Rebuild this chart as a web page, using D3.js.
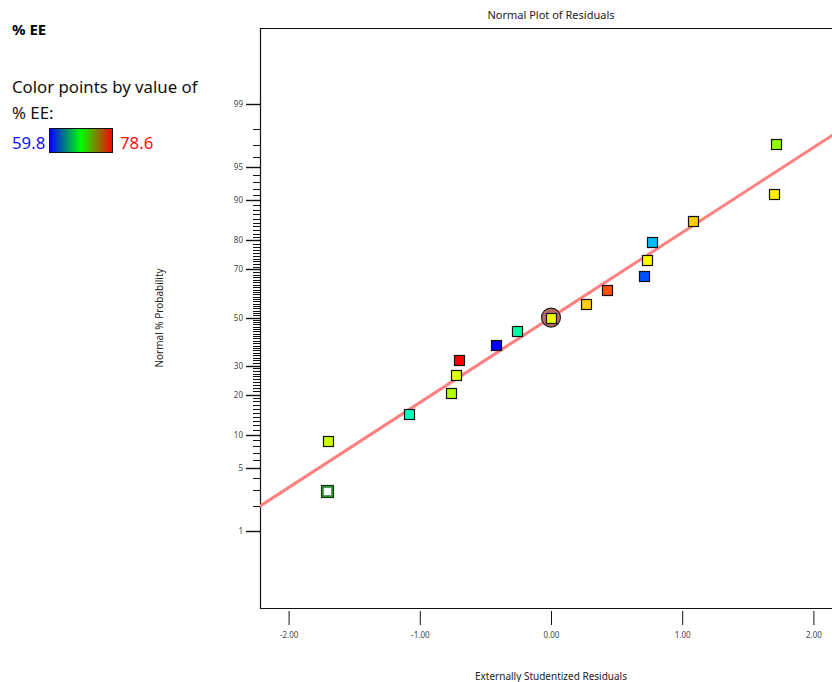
<!DOCTYPE html>
<html>
<head>
<meta charset="utf-8">
<script src="https://cdn.jsdelivr.net/npm/d3@7"></script>
<style>
  body { margin: 0; background: #fff; }
  svg { display: block; font-family: "Noto Sans", "Open Sans", sans-serif; }
</style>
</head>
<body>
<svg id="chart" width="832" height="682"></svg>
<script>
// Externally studentized residuals, in rank order
const residuals = [-1.710, -1.697, -1.080, -0.762, -0.726, -0.703, -0.419, -0.259, 0.000,
                   0.264, 0.425, 0.707, 0.729, 0.768, 1.085, 1.702, 1.717];
// Normal % probability of each ranked residual
const probabilities = [2.94, 8.82, 14.71, 20.59, 26.47, 32.35, 38.24, 44.12, 50.00,
                       55.88, 61.76, 67.65, 73.53, 79.41, 85.29, 91.18, 97.06];
// % EE response of each run (colours the points)
const eeValues = [69.2, 72.9, 65.7, 72.5, 73.4, 78.6, 59.8, 66.2, 73.5,
                  74.8, 77.1, 61.3, 73.9, 63.3, 74.8, 74.2, 71.9];
const eeRange = [59.8, 78.6];
const openPointIndex = 0;      // drawn hollow
const selectedPointIndex = 8;  // circled
// Reference line slope (z per residual unit)
const lineSlope = 0.928;

const xTickValues = [-2, -1, 0, 1, 2];
const yMajorTicks = [1, 5, 10, 20, 30, 50, 70, 80, 90, 95, 99];
const yMinorTicks = d3.range(1, 100).filter(v => !yMajorTicks.includes(v));

// Inverse of the standard normal CDF (Acklam's rational approximation)
function probit(p) {
  const a = [-3.969683028665376e+01, 2.209460984245205e+02, -2.759285104469687e+02,
             1.383577518672690e+02, -3.066479806614716e+01, 2.506628277459239e+00];
  const b = [-5.447609879822406e+01, 1.615858368580409e+02, -1.556989798598866e+02,
             6.680131188771972e+01, -1.328068155288572e+01];
  const c = [-7.784894002430293e-03, -3.223964580411365e-01, -2.400758277161838e+00,
             -2.549732539343734e+00, 4.374664141464968e+00, 2.938163982698783e+00];
  const d = [7.784695709041462e-03, 3.224671290700398e-01, 2.445134137142996e+00,
             3.754408661907416e+00];
  const pl = 0.02425, ph = 1 - pl;
  let q, r;
  if (p < pl) {
    q = Math.sqrt(-2 * Math.log(p));
    return (((((c[0]*q+c[1])*q+c[2])*q+c[3])*q+c[4])*q+c[5]) /
           ((((d[0]*q+d[1])*q+d[2])*q+d[3])*q+1);
  } else if (p <= ph) {
    q = p - 0.5; r = q * q;
    return (((((a[0]*r+a[1])*r+a[2])*r+a[3])*r+a[4])*r+a[5])*q /
           (((((b[0]*r+b[1])*r+b[2])*r+b[3])*r+b[4])*r+1);
  } else {
    q = Math.sqrt(-2 * Math.log(1 - p));
    return -(((((c[0]*q+c[1])*q+c[2])*q+c[3])*q+c[4])*q+c[5]) /
            ((((d[0]*q+d[1])*q+d[2])*q+d[3])*q+1);
  }
}

const svg = d3.select("#chart");
const plot = { left: 260, right: 842, top: 28, bottom: 608 };

const x = d3.scaleLinear().domain([-2.218, 2.218]).range([plot.left, plot.right]);
const z = d3.scaleLinear().domain([-3.17, 3.16]).range([plot.bottom, plot.top]);
const yPct = pct => z(probit(pct / 100));

const hue = d3.scaleLinear().domain(eeRange).range([240, 0]);
const colorOf = v => d3.hsl(hue(v), 1, 0.5).formatHex();

// ---- Left panel: response name and colour legend ----
svg.append("text").attr("x", 12).attr("y", 35)
  .attr("font-size", 15).attr("font-weight", "bold").attr("fill", "#000").text("% EE");
svg.append("text").attr("x", 12).attr("y", 93)
  .attr("font-size", 16.8).attr("fill", "#111").text("Color points by value of");
svg.append("text").attr("x", 12).attr("y", 119)
  .attr("font-size", 16.8).attr("fill", "#111").text("% EE:");
svg.append("text").attr("x", 12).attr("y", 149)
  .attr("font-size", 16.8).attr("fill", "#1010ff").text(eeRange[0]);
svg.append("text").attr("x", 120).attr("y", 149)
  .attr("font-size", 16.8).attr("fill", "#ff1010").text(eeRange[1]);

const grad = svg.append("defs").append("linearGradient").attr("id", "eeGrad");
grad.selectAll("stop").data([["0%", "#0000ff"], ["50%", "#00ff00"], ["100%", "#ff0000"]])
  .join("stop").attr("offset", d => d[0]).attr("stop-color", d => d[1]);
svg.append("rect").attr("x", 49.5).attr("y", 128.5).attr("width", 63).attr("height", 24)
  .attr("fill", "url(#eeGrad)").attr("stroke", "#111").attr("stroke-width", 1);

// ---- Titles ----
const cx = (plot.left + plot.right) / 2;
svg.append("text").attr("x", cx).attr("y", 19).attr("text-anchor", "middle")
  .attr("font-size", 11).attr("fill", "#222").text("Normal Plot of Residuals");
svg.append("text").attr("x", cx).attr("y", 680).attr("text-anchor", "middle")
  .attr("font-size", 10).attr("fill", "#222").text("Externally Studentized Residuals");
svg.append("text")
  .attr("transform", `translate(163,${(plot.top + plot.bottom) / 2}) rotate(-90)`)
  .attr("text-anchor", "middle").attr("font-size", 10).attr("fill", "#222")
  .text("Normal % Probability");

// ---- Frame ----
svg.append("path")
  .attr("d", `M${plot.right},${plot.top + 0.5}H${plot.left + 0.5}V${plot.bottom + 0.5}H${plot.right}`)
  .attr("fill", "none").attr("stroke", "#111").attr("stroke-width", 1.2);

// ---- Y axis (normal probability) ----
const yAxis = svg.append("g");
yAxis.selectAll("line.minor").data(yMinorTicks).join("line").attr("class", "minor")
  .attr("x1", plot.left - 7).attr("x2", plot.left)
  .attr("y1", d => Math.round(yPct(d)) + 0.5).attr("y2", d => Math.round(yPct(d)) + 0.5)
  .attr("stroke", "#111").attr("stroke-width", 1);
yAxis.selectAll("line.major").data(yMajorTicks).join("line").attr("class", "major")
  .attr("x1", plot.left - 14).attr("x2", plot.left)
  .attr("y1", d => Math.round(yPct(d)) + 0.5).attr("y2", d => Math.round(yPct(d)) + 0.5)
  .attr("stroke", "#111").attr("stroke-width", 1.4);
yAxis.selectAll("text").data(yMajorTicks).join("text")
  .attr("x", plot.left - 17).attr("y", d => yPct(d) + 3)
  .attr("text-anchor", "end").attr("font-size", 8).attr("fill", "#444").text(d => d);

// ---- X axis ----
const xAxis = d3.axisBottom(x).tickValues(xTickValues)
  .tickFormat(d => d.toFixed(2)).tickSize(14).tickPadding(7);
const xg = svg.append("g").attr("transform", `translate(0,${plot.bottom + 3})`).call(xAxis);
xg.select(".domain").remove();
xg.selectAll(".tick line").attr("stroke", "#111");
xg.selectAll(".tick text").attr("font-size", 8).attr("fill", "#444")
  .attr("font-family", "\"Noto Sans\", \"Open Sans\", sans-serif");

// ---- Reference line ----
svg.append("defs").append("clipPath").attr("id", "plotClip").append("rect")
  .attr("x", plot.left).attr("y", plot.top)
  .attr("width", plot.right - plot.left).attr("height", plot.bottom - plot.top);
const line = d3.line().x(d => x(d)).y(d => z(lineSlope * d));
svg.append("path").datum(x.domain())
  .attr("clip-path", "url(#plotClip)")
  .attr("d", line).attr("fill", "none").attr("stroke", "#ff8080").attr("stroke-width", 3);

// ---- Points ----
const points = residuals.map((r, i) => ({ r, p: probabilities[i], v: eeValues[i], i }));
const pts = svg.append("g");

const sel = points[selectedPointIndex];
pts.append("circle").attr("cx", x(sel.r)).attr("cy", yPct(sel.p)).attr("r", 9.5)
  .attr("fill", "#bb6a60").attr("stroke", "#222").attr("stroke-width", 1.2);

pts.selectAll("rect.pt").data(points.filter(d => d.i !== openPointIndex)).join("rect")
  .attr("class", "pt")
  .attr("x", d => Math.round(x(d.r)) - 4.5).attr("y", d => Math.round(yPct(d.p)) - 4.5)
  .attr("width", 10).attr("height", 10)
  .attr("fill", d => colorOf(d.v)).attr("stroke", "#111").attr("stroke-width", 1.2);

const op = points[openPointIndex];
const ox = Math.round(x(op.r)), oy = Math.round(yPct(op.p));
pts.append("rect").attr("x", ox - 5.5).attr("y", oy - 5.5).attr("width", 12).attr("height", 12)
  .attr("fill", "#22a022").attr("stroke", "#143814").attr("stroke-width", 1.2);
pts.append("rect").attr("x", ox - 3.5).attr("y", oy - 3.5).attr("width", 8).attr("height", 8)
  .attr("fill", "#fff").attr("stroke", "#3a5a3a").attr("stroke-width", 0.5);
</script>
</body>
</html>
